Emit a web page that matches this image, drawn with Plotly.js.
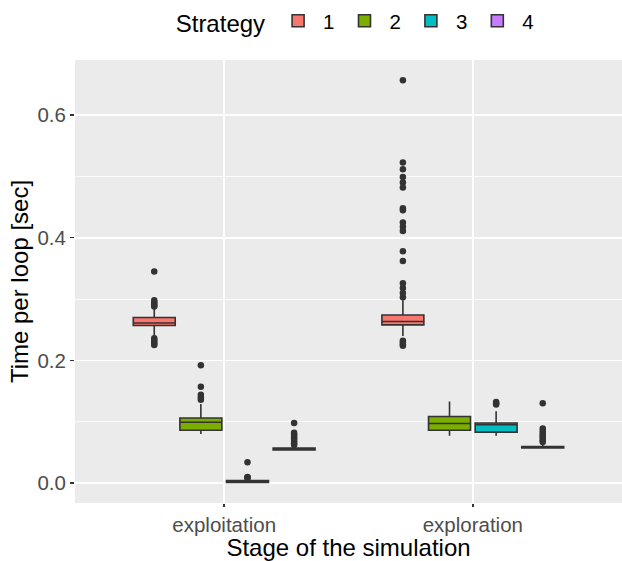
<!DOCTYPE html>
<html>
<head>
<meta charset="utf-8">
<script src="https://cdn.plot.ly/plotly-3.0.1.min.js"></script>
<style>html,body{margin:0;padding:0;background:#fff;}#chart{width:622px;height:561px;}</style>
</head>
<body>
<div id="chart"></div>
<script>
// ---- data ----
const categories = ['exploitation', 'exploration'];
const strategies = ['1', '2', '3', '4'];
const colors = ['#F8766D', '#7CAE00', '#00BFC4', '#C77CFF'];

// per strategy: [exploitation, exploration]
const lowerFence = [[0.240, 0.240], [0.080, 0.077], [0.000, 0.077], [0.053, 0.056]];
const q1         = [[0.257, 0.258], [0.086, 0.086], [0.001, 0.083], [0.054, 0.057]];
const median     = [[0.261, 0.2635], [0.099, 0.097], [0.002, 0.095], [0.0555, 0.058]];
const q3         = [[0.270, 0.274], [0.106, 0.1085], [0.004, 0.098], [0.057, 0.0595]];
const upperFence = [[0.284, 0.298], [0.129, 0.133], [0.006, 0.117], [0.060, 0.063]];

const outliersS1 = [
  [0.345, 0.298, 0.295, 0.292, 0.290, 0.288, 0.236, 0.233, 0.230, 0.227, 0.225],
  [0.657, 0.523, 0.512, 0.499, 0.490, 0.482, 0.448, 0.445, 0.425, 0.418, 0.411, 0.378, 0.362,
   0.326, 0.318, 0.310, 0.303, 0.232, 0.229, 0.226, 0.224]
];
const outliersS2 = [
  [0.192, 0.157, 0.144, 0.140, 0.136],
  []
];
const outliersS3 = [
  [0.034, 0.010, 0.009, 0.008],
  [0.132, 0.130, 0.128]
];
const outliersS4 = [
  [0.098, 0.082, 0.079, 0.076, 0.073, 0.070, 0.067, 0.064, 0.062],
  [0.130, 0.089, 0.085, 0.081, 0.078, 0.075, 0.072, 0.069, 0.067]
];
const outliers = [outliersS1, outliersS2, outliersS3, outliersS4];

// ---- layout constants (ggplot-like dodge) ----
const dodgeWidth = 0.75;
const slot = dodgeWidth / strategies.length;
const boxWidth = slot * 0.9;
const catPos = categories.map((c, i) => i + 1);
const lineCol = '#333333';

const traces = [];
strategies.forEach((s, i) => {
  const off = (i - (strategies.length - 1) / 2) * slot;
  const xs = catPos.map(p => p + off);
  traces.push({
    type: 'box',
    name: s,
    x: xs,
    q1: q1[i], median: median[i], q3: q3[i],
    lowerfence: lowerFence[i], upperfence: upperFence[i],
    width: boxWidth,
    fillcolor: colors[i],
    line: {color: lineCol, width: 1.6},
    whiskerwidth: 0,
    boxpoints: false,
    hoverinfo: 'skip',
    legendgroup: s
  });
});
strategies.forEach((s, i) => {
  const off = (i - (strategies.length - 1) / 2) * slot;
  const px = [], py = [];
  outliers[i].forEach((arr, c) => {
    arr.forEach(v => { px.push(catPos[c] + off); py.push(v); });
  });
  traces.push({
    type: 'scatter', mode: 'markers',
    x: px, y: py,
    marker: {color: lineCol, size: 6.5},
    showlegend: false, hoverinfo: 'skip', legendgroup: s
  });
});

const layout = {
  width: 622, height: 561,
  margin: {l: 75, r: 0, t: 60, b: 58},
  paper_bgcolor: '#FFFFFF',
  plot_bgcolor: '#EBEBEB',
  font: {family: 'Liberation Sans, Arial, sans-serif', color: '#000'},
  showlegend: true,
  legend: {
    orientation: 'h', x: 0.515, xanchor: 'center', y: 1.086, yanchor: 'middle',
    title: {text: 'Strategy', font: {size: 24, color: '#000'}, side: 'left'},
    font: {size: 20.5, color: '#000'},
    bgcolor: 'rgba(0,0,0,0)',
    itemwidth: 40
  },
  xaxis: {
    range: [0.4, 2.6],
    tickmode: 'array', tickvals: catPos, ticktext: categories,
    showgrid: true, gridcolor: '#FFFFFF', gridwidth: 1.6,
    zeroline: false, showline: false,
    ticks: 'outside', ticklen: 3, tickcolor: lineCol, tickwidth: 1.4,
    tickfont: {size: 20.5, color: '#4D4D4D'},
    title: {text: 'Stage of the simulation', font: {size: 24, color: '#000'}, standoff: 0}
  },
  yaxis: {
    range: [-0.0326, 0.690],
    tickmode: 'array', tickvals: [0, 0.2, 0.4, 0.6], ticktext: ['0.0', '0.2', '0.4', '0.6'],
    showgrid: true, gridcolor: '#FFFFFF', gridwidth: 1.6,
    minor: {tickmode: 'array', tickvals: [0.1, 0.3, 0.5], showgrid: true, gridcolor: '#FFFFFF', gridwidth: 0.8, ticks: ''},
    zeroline: false, showline: false,
    ticks: 'outside', ticklen: 4, tickcolor: lineCol, tickwidth: 1.4,
    tickfont: {size: 20.5, color: '#4D4D4D'},
    title: {text: 'Time per loop [sec]', font: {size: 24, color: '#000'}, standoff: 2}
  }
};

Plotly.newPlot('chart', traces, layout, {displayModeBar: false, staticPlot: true});
</script>
</body>
</html>
